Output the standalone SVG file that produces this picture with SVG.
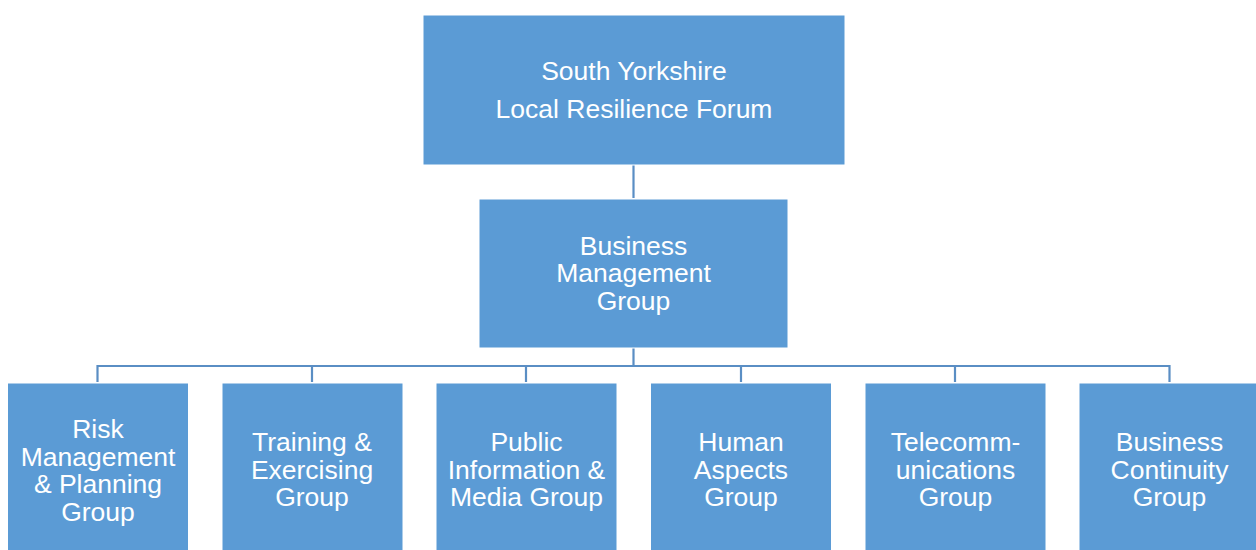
<svg xmlns="http://www.w3.org/2000/svg" width="1256" height="550" viewBox="0 0 1256 550">
<style>
.box{fill:#5B9BD5;stroke:#FFFFFF;stroke-width:1}
.t{font-family:"Liberation Sans",Arial,sans-serif;font-size:26.5px;fill:#FFFFFF;text-anchor:middle}
.c{stroke:#5A8EC4;stroke-width:2.2;fill:none}
</style>
<rect width="1256" height="550" fill="#FFFFFF"/>
<g id="connectors">
<line class="c" x1="633.5" y1="165" x2="633.5" y2="198"/>
<path class="c" d="M633.5 348 V366 M97.5 382 V366 H1169.5 V382 M312 366 V382 M526 366 V382 M741 366 V382 M955 366 V382"/>
</g>
<g id="lrf">
<rect class="box" x="423" y="15" width="422" height="150"/>
<text class="t" x="634" y="80">South Yorkshire</text>
<text class="t" x="634" y="117.5">Local Resilience Forum</text>
</g>
<g id="bmg">
<rect class="box" x="479" y="199" width="309" height="149"/>
<text class="t" x="633.5" y="254.5">Business</text>
<text class="t" x="633.5" y="282">Management</text>
<text class="t" x="633.5" y="309.5">Group</text>
</g>
<g id="risk">
<rect class="box" x="7.5" y="383" width="181" height="170"/>
<text class="t" x="98" y="438">Risk</text>
<text class="t" x="98" y="465.7">Management</text>
<text class="t" x="98" y="493.4">&amp; Planning</text>
<text class="t" x="98" y="521">Group</text>
</g>
<g id="training">
<rect class="box" x="222" y="383" width="181" height="170"/>
<text class="t" x="312" y="451">Training &amp;</text>
<text class="t" x="312" y="478.7">Exercising</text>
<text class="t" x="312" y="506.4">Group</text>
</g>
<g id="public">
<rect class="box" x="436" y="383" width="181" height="170"/>
<text class="t" x="526.5" y="451">Public</text>
<text class="t" x="526.5" y="478.7">Information &amp;</text>
<text class="t" x="526.5" y="506.4">Media Group</text>
</g>
<g id="human">
<rect class="box" x="650.5" y="383" width="181" height="170"/>
<text class="t" x="741" y="451">Human</text>
<text class="t" x="741" y="478.7">Aspects</text>
<text class="t" x="741" y="506.4">Group</text>
</g>
<g id="telecom">
<rect class="box" x="865" y="383" width="181" height="170"/>
<text class="t" x="955.5" y="451">Telecomm-</text>
<text class="t" x="955.5" y="478.7">unications</text>
<text class="t" x="955.5" y="506.4">Group</text>
</g>
<g id="continuity">
<rect class="box" x="1079" y="383" width="181" height="170"/>
<text class="t" x="1169.5" y="451">Business</text>
<text class="t" x="1169.5" y="478.7">Continuity</text>
<text class="t" x="1169.5" y="506.4">Group</text>
</g>
</svg>
